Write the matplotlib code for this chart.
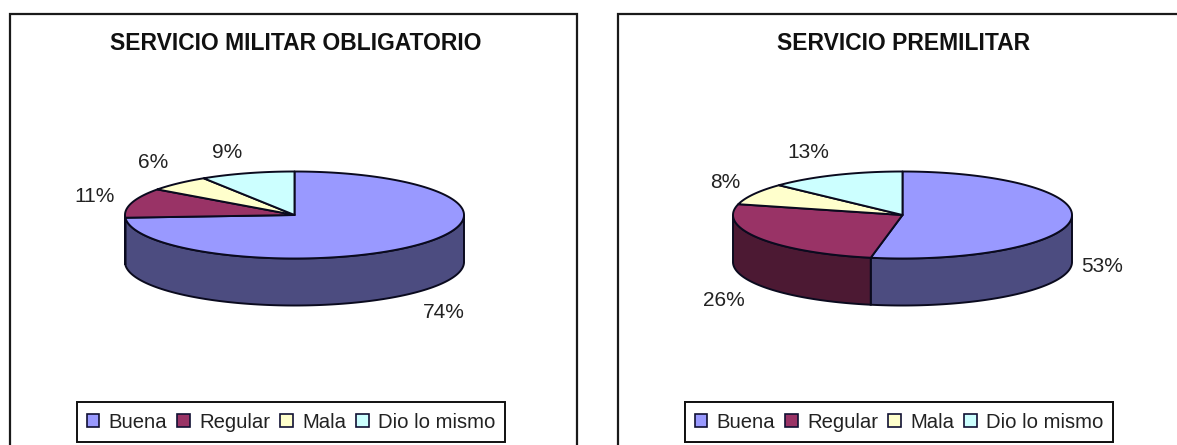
import numpy as np
import matplotlib
matplotlib.use('Agg')
import matplotlib.pyplot as plt
from matplotlib.patches import Patch, Polygon, Rectangle

plt.rcParams['font.family'] = ['Liberation Sans', 'DejaVu Sans']

categories = ['Buena', 'Regular', 'Mala', 'Dio lo mismo']
titles = ['SERVICIO MILITAR OBLIGATORIO', 'SERVICIO PREMILITAR']
obligatorio = [74, 11, 6, 9]
premilitar = [53, 26, 8, 13]

top_colors = ['#9999FF', '#993366', '#FFFFCC', '#CCFFFF']
side_colors = ['#4C4C80', '#4C1933', '#80805F', '#5F8080']

W, H = 1177, 445
RX, RY, DEPTH = 169.5, 43.5, 47
EDGE = '#0a0a1e'


def ellipse_pts(cx, cy, a0, a1):
    # angles in degrees, clockwise from 12 o'clock
    t = np.radians(np.linspace(a0, a1, max(int(abs(a1 - a0)) * 2, 2)))
    return np.column_stack([cx + RX * np.sin(t), cy - RY * np.cos(t)])


def draw_pie(ax, cx, cy, values):
    total = sum(values)
    ends = np.cumsum(values) / total * 360
    starts = np.r_[0, ends[:-1]]

    # side wall, only the front half of the cake shows
    for a0, a1, c in zip(starts, ends, side_colors):
        lo, hi = max(a0, 90), min(a1, 270)
        if hi <= lo:
            continue
        arc = ellipse_pts(cx, cy, lo, hi)
        low = arc[::-1] + [0, DEPTH]
        ax.add_patch(Polygon(np.vstack([arc, low]), closed=True, fc=c, ec=EDGE, lw=1.4, zorder=2))

    # top face
    for a0, a1, c in zip(starts, ends, top_colors):
        arc = ellipse_pts(cx, cy, a0, a1)
        ax.add_patch(Polygon(np.vstack([[cx, cy], arc]), closed=True, fc=c, ec=EDGE, lw=1.4,
                             joinstyle='round', zorder=3))


# pixel positions for each panel: frame, pie centre, label anchors, legend box
# the right frame runs off the edge of the image
panels = [
    dict(frame=(10, 577), cx=294.5, values=obligatorio, title_x=296,
         labels=[(444, 312), (95, 197), (153, 163), (227, 153)], legend=(77, 505)),
    dict(frame=(618, 1195), cx=902.5, values=premilitar, title_x=903.5,
         labels=[(1102, 267), (724, 300), (725.5, 182), (808, 153)], legend=(686, 1112)),
]

fig = plt.figure(figsize=(W / 100, H / 100), dpi=100, facecolor='white')
ax = fig.add_axes([0, 0, 1, 1])
ax.set_xlim(0, W)
ax.set_ylim(H, 0)
ax.axis('off')

for p, title in zip(panels, titles):
    x0, x1 = p['frame']
    ax.add_patch(Rectangle((x0, 14), x1 - x0, H, fc='white', ec='#1a1a1a', lw=1.6, zorder=1))
    ax.text(p['title_x'], 44, title, ha='center', va='center', fontsize=16.5,
            fontweight='bold', color='#111111', zorder=5)

    draw_pie(ax, p['cx'], 215, p['values'])

    for v, (lx, ly) in zip(p['values'], p['labels']):
        ax.text(lx, ly, f'{v}%', ha='center', va='center', fontsize=15, color='#222222', zorder=5)

    handles = [Patch(fc=c, ec='#111133', lw=1.2) for c in top_colors]
    lx0, lx1 = p['legend']
    leg = ax.legend(handles, categories, ncol=4, loc='center',
                    bbox_to_anchor=((lx0 + lx1) / 2 / W, 1 - 422 / H), bbox_transform=ax.transAxes,
                    fontsize=14.6, frameon=True, fancybox=False, edgecolor='#111111', framealpha=1,
                    handlelength=0.62, handleheight=0.62, handletextpad=0.45, columnspacing=0.5,
                    borderpad=0.5, borderaxespad=0)
    leg.get_frame().set_linewidth(1.4)
    leg.set_zorder(6)
    for t in leg.get_texts():
        t.set_color('#222222')
    ax.add_artist(leg)

fig.savefig('out.png', dpi=100)
